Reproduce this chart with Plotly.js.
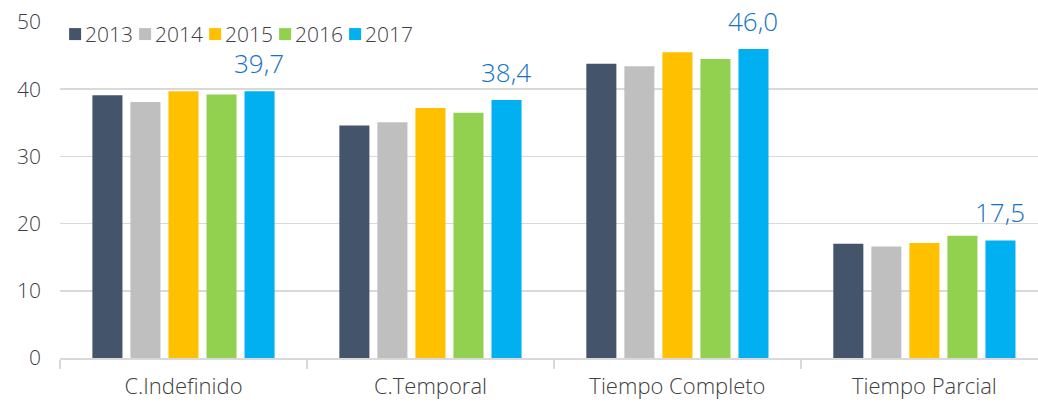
<!DOCTYPE html>
<html>
<head>
<meta charset="utf-8">
<script src="https://cdn.plot.ly/plotly-3.0.1.min.js"></script>
<style>html,body{margin:0;padding:0;background:#fff;}#chart{width:1038px;height:403px;}</style>
</head>
<body>
<div id="chart"></div>
<script>
var categories = ["C.Indefinido", "C.Temporal", "Tiempo Completo", "Tiempo Parcial"];
var years = ["2013", "2014", "2015", "2016", "2017"];
var values2013 = [39.1, 34.6, 43.8, 17.0];
var values2014 = [38.1, 35.1, 43.4, 16.6];
var values2015 = [39.7, 37.2, 45.5, 17.1];
var values2016 = [39.2, 36.5, 44.5, 18.2];
var values2017 = [39.7, 38.4, 46.0, 17.5];
var yTicks = [0, 10, 20, 30, 40, 50];
var colors = ["#44546a", "#bfbfbf", "#ffc000", "#92d050", "#00b0f0"];

var series = [values2013, values2014, values2015, values2016, values2017];
var fontFam = "'Open Sans', 'Noto Sans', sans-serif";

var traces = series.map(function (vals, i) {
  return {
    type: "bar",
    name: years[i],
    x: categories,
    y: vals,
    marker: {color: colors[i], line: {width: 0}},
    hoverinfo: "y+name"
  };
});

// value labels above the 2017 bars
var labelAnnotations = values2017.map(function (v, i) {
  return {
    xref: "x", yref: "y",
    x: categories[i], y: v,
    text: v.toFixed(1).replace(".", ","),
    showarrow: false,
    xanchor: "center", yanchor: "bottom",
    xshift: 76, yshift: 8,
    font: {family: fontFam, size: 26, color: "#1572c6", weight: 300}
  };
});

var layout = {
  width: 1038,
  height: 403,
  margin: {l: 60, r: 0, t: 22, b: 45},
  paper_bgcolor: "#ffffff",
  plot_bgcolor: "#ffffff",
  barmode: "group",
  bargap: 0.23,
  bargroupgap: 0.21,
  font: {family: fontFam, size: 20, color: "#404040", weight: 300},
  showlegend: true,
  legend: {
    orientation: "h",
    x: -0.005, y: 1.024, xanchor: "left", yanchor: "top",
    font: {family: fontFam, size: 21, color: "#404040", weight: 300},
    bgcolor: "rgba(255,255,255,0)",
    itemwidth: 30,
    entrywidth: 25,
    entrywidthmode: "pixels",
    traceorder: "normal"
  },
  annotations: labelAnnotations,
  xaxis: {
    type: "category",
    range: [-0.5, 3.46],
    showgrid: false,
    showline: true,
    linecolor: "#d9d9d9",
    linewidth: 1.5,
    ticks: "outside",
    tickson: "boundaries",
    ticklen: 9,
    tickcolor: "#d9d9d9",
    tickwidth: 1.5,
    ticklabelstandoff: 8,
    tickfont: {family: fontFam, size: 22, color: "#404040", weight: 300},
    zeroline: false
  },
  yaxis: {
    range: [0, 50],
    tickvals: yTicks,
    ticktext: yTicks.map(String),
    showgrid: true,
    gridcolor: "#d9d9d9",
    gridwidth: 1.5,
    showline: false,
    zeroline: false,
    ticks: "",
    ticklabelstandoff: 18,
    tickfont: {family: fontFam, size: 21, color: "#404040", weight: 300}
  }
};

Plotly.newPlot("chart", traces, layout, {displayModeBar: false, staticPlot: true}).then(function (gd) {
  // tighten the gap between legend swatches and their labels, and let labels overflow
  gd.querySelectorAll(".legend .legendtext").forEach(function (t) {
    t.setAttribute("x", parseFloat(t.getAttribute("x")) - 10);
  });
  gd.querySelectorAll(".legend [clip-path]").forEach(function (el) {
    el.removeAttribute("clip-path");
  });
});
</script>
</body>
</html>
